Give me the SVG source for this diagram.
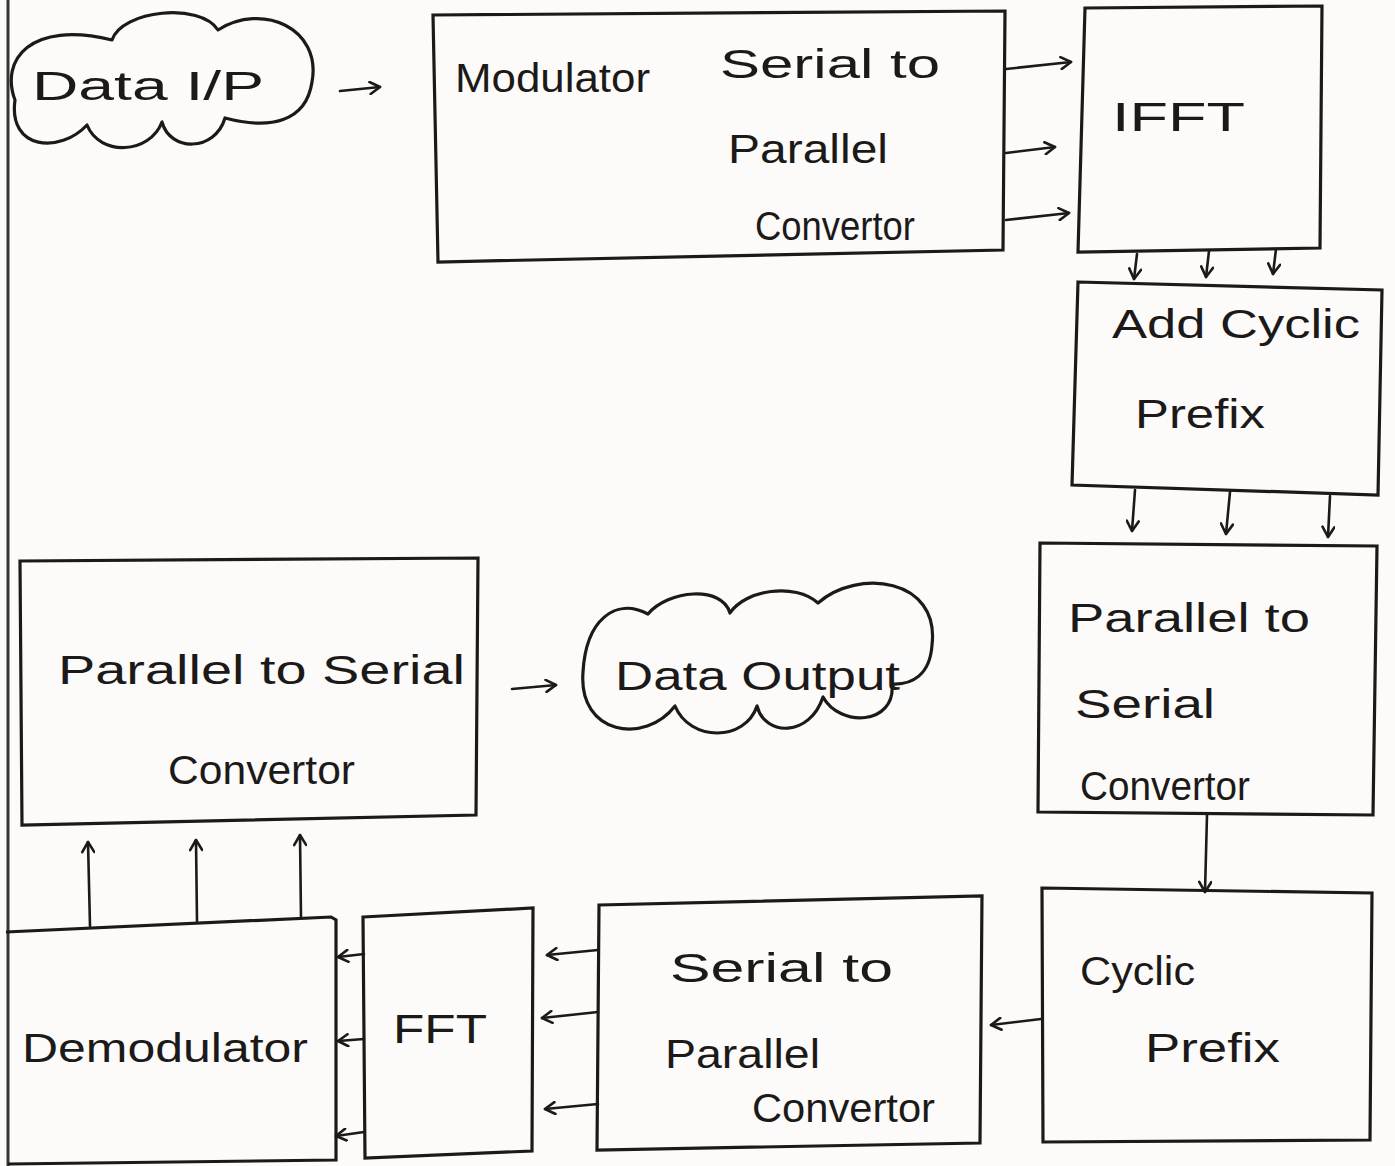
<svg xmlns="http://www.w3.org/2000/svg" width="1395" height="1166" viewBox="0 0 1395 1166">
<style>
.bg{fill:#fcfbf9}
.box{fill:none;stroke:#1c1a19;stroke-width:3.2;stroke-linejoin:miter}
.cloud{fill:none;stroke:#1c1a19;stroke-width:3.2;stroke-linejoin:round}
.edge{fill:none;stroke:#1c1a19;stroke-width:2.6;stroke-linecap:round}
.head{fill:none;stroke:#1c1a19;stroke-width:2.6;stroke-linecap:round;stroke-linejoin:round}
.t{font-family:"Liberation Sans","DejaVu Sans",sans-serif;fill:#1c1a19;font-size:40px}
.margin{stroke:#3a3533;stroke-width:3}
</style>
<defs>
<marker id="ah" viewBox="0 0 14 14" refX="12" refY="7" markerWidth="14" markerHeight="14" markerUnits="userSpaceOnUse" orient="auto">
<path d="M2,1 L12,7 L2,13" class="head"/>
</marker>
</defs>
<rect class="bg" x="0" y="0" width="1395" height="1166"/>
<line class="margin" x1="8" y1="0" x2="8" y2="1166"/>

<g id="connectors">
<path class="edge" d="M340,91 L380,87" marker-end="url(#ah)"/>
<path class="edge" d="M1006,69 L1071,62" marker-end="url(#ah)"/>
<path class="edge" d="M1006,153 L1055,147" marker-end="url(#ah)"/>
<path class="edge" d="M1006,220 L1069,213" marker-end="url(#ah)"/>
<path class="edge" d="M1137,254 L1134,279" marker-end="url(#ah)"/>
<path class="edge" d="M1209,251 L1206,277" marker-end="url(#ah)"/>
<path class="edge" d="M1276,249 L1273,274" marker-end="url(#ah)"/>
<path class="edge" d="M1135,490 L1132,531" marker-end="url(#ah)"/>
<path class="edge" d="M1230,492 L1226,534" marker-end="url(#ah)"/>
<path class="edge" d="M1330,496 L1328,537" marker-end="url(#ah)"/>
<path class="edge" d="M1207,815 L1205,892" marker-end="url(#ah)"/>
<path class="edge" d="M1041,1019 L991,1025" marker-end="url(#ah)"/>
<path class="edge" d="M598,950 L547,955" marker-end="url(#ah)"/>
<path class="edge" d="M598,1012 L542,1018" marker-end="url(#ah)"/>
<path class="edge" d="M598,1104 L545,1109" marker-end="url(#ah)"/>
<path class="edge" d="M364,954 L338,957" marker-end="url(#ah)"/>
<path class="edge" d="M364,1039 L338,1041" marker-end="url(#ah)"/>
<path class="edge" d="M364,1132 L336,1136" marker-end="url(#ah)"/>
<path class="edge" d="M90,926 L88,842" marker-end="url(#ah)"/>
<path class="edge" d="M197,921 L196,840" marker-end="url(#ah)"/>
<path class="edge" d="M301,918 L300,835" marker-end="url(#ah)"/>
<path class="edge" d="M512,689 L556,685" marker-end="url(#ah)"/>
</g>

<g id="data-input">
<path class="cloud" d="M15,100 C0,60 30,20 112,40 C122,10 200,2 218,30 C262,2 322,28 312,82 C306,122 270,130 225,118 C215,152 170,152 162,122 C150,154 100,157 87,125 C60,154 8,150 15,100 Z"/>
<text class="t" x="32" y="100" font-size="56" textLength="232" lengthAdjust="spacingAndGlyphs">Data I/P</text>
</g>

<g id="modulator">
<path class="box" d="M433,15 L1005,11 L1003,250 L438,262 Z"/>
<text class="t" x="455" y="92" font-size="44" textLength="195" lengthAdjust="spacingAndGlyphs">Modulator</text>
<text class="t" x="720" y="78" font-size="52" textLength="220" lengthAdjust="spacingAndGlyphs">Serial to</text>
<text class="t" x="728" y="163" font-size="48" textLength="160" lengthAdjust="spacingAndGlyphs">Parallel</text>
<text class="t" x="755" y="240" font-size="40" textLength="160" lengthAdjust="spacingAndGlyphs">Convertor</text>
</g>

<g id="ifft">
<path class="box" d="M1085,8 L1322,6 L1320,248 L1078,252 Z"/>
<text class="t" x="1112" y="131" font-size="52" textLength="133" lengthAdjust="spacingAndGlyphs">IFFT</text>
</g>

<g id="add-cyclic-prefix">
<path class="box" d="M1078,282 L1382,290 L1378,495 L1072,485 Z"/>
<text class="t" x="1112" y="338" font-size="48" textLength="248" lengthAdjust="spacingAndGlyphs">Add Cyclic</text>
<text class="t" x="1135" y="428" font-size="50" textLength="130" lengthAdjust="spacingAndGlyphs">Prefix</text>
</g>

<g id="parallel-to-serial-tx">
<path class="box" d="M1040,543 L1377,546 L1373,815 L1038,812 Z"/>
<text class="t" x="1068" y="632" font-size="52" textLength="242" lengthAdjust="spacingAndGlyphs">Parallel to</text>
<text class="t" x="1075" y="718" font-size="50" textLength="140" lengthAdjust="spacingAndGlyphs">Serial</text>
<text class="t" x="1080" y="800" font-size="40" textLength="170" lengthAdjust="spacingAndGlyphs">Convertor</text>
</g>

<g id="cyclic-prefix">
<path class="box" d="M1042,888 L1372,893 L1370,1140 L1043,1142 Z"/>
<text class="t" x="1080" y="985" font-size="46" textLength="115" lengthAdjust="spacingAndGlyphs">Cyclic</text>
<text class="t" x="1145" y="1062" font-size="50" textLength="135" lengthAdjust="spacingAndGlyphs">Prefix</text>
</g>

<g id="serial-to-parallel-rx">
<path class="box" d="M599,905 L982,896 L980,1143 L597,1150 Z"/>
<text class="t" x="670" y="982" font-size="52" textLength="223" lengthAdjust="spacingAndGlyphs">Serial to</text>
<text class="t" x="665" y="1068" font-size="46" textLength="155" lengthAdjust="spacingAndGlyphs">Parallel</text>
<text class="t" x="752" y="1122" font-size="42" textLength="183" lengthAdjust="spacingAndGlyphs">Convertor</text>
</g>

<g id="fft">
<path class="box" d="M363,917 L533,908 L532,1151 L365,1158 Z"/>
<text class="t" x="393" y="1043" font-size="50" textLength="94" lengthAdjust="spacingAndGlyphs">FFT</text>
</g>

<g id="demodulator">
<path class="box" d="M6,932 L331,917 L336,920 L336,1160 L8,1164"/>
<text class="t" x="22" y="1062" font-size="52" textLength="286" lengthAdjust="spacingAndGlyphs">Demodulator</text>
</g>

<g id="parallel-to-serial-rx">
<path class="box" d="M20,561 L478,558 L476,815 L22,825 Z"/>
<text class="t" x="58" y="684" font-size="54" textLength="407" lengthAdjust="spacingAndGlyphs">Parallel to Serial</text>
<text class="t" x="168" y="784" font-size="42" textLength="187" lengthAdjust="spacingAndGlyphs">Convertor</text>
</g>

<g id="data-output">
<path class="cloud" d="M675,706 C645,745 578,735 583,672 C586,620 615,597 648,614 C668,590 722,585 730,613 C745,590 795,582 818,603 C858,568 940,578 932,645 C930,675 912,685 892,684 C896,725 840,728 823,697 C810,737 765,737 757,706 C745,742 690,742 675,706 Z"/>
<text class="t" x="615" y="690" font-size="52" textLength="285" lengthAdjust="spacingAndGlyphs">Data Output</text>
</g>
</svg>
